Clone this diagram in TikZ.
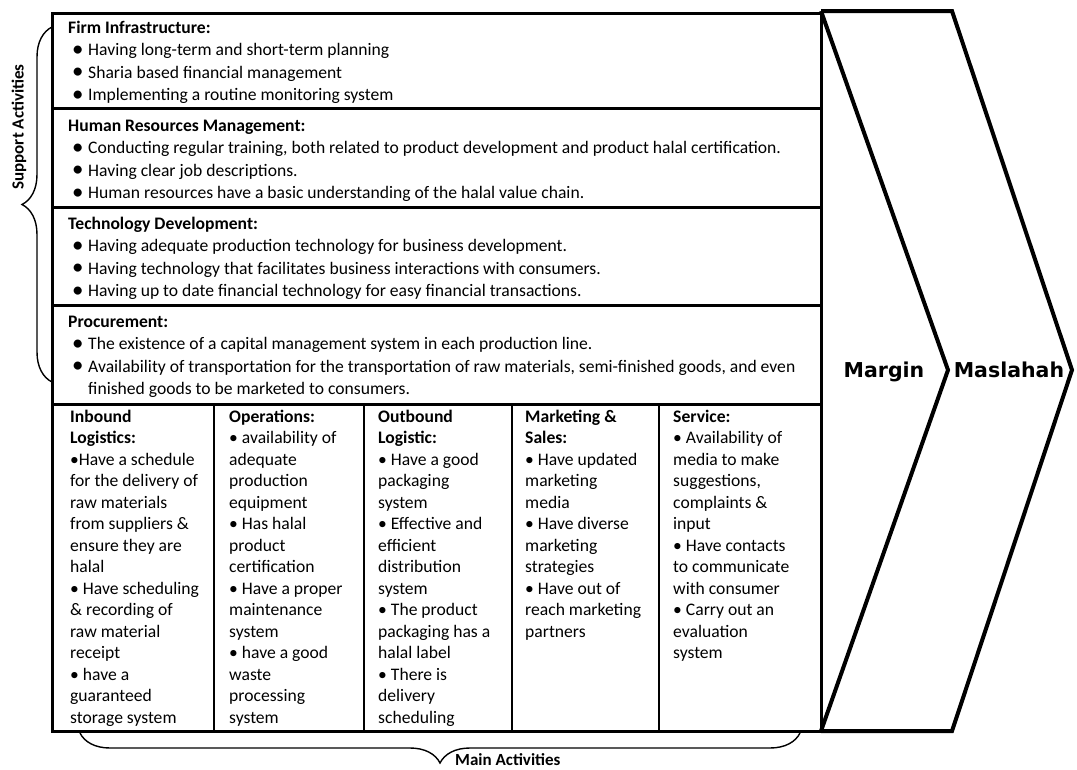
\documentclass[tikz,border=0pt]{standalone}
\usepackage{fontspec}
\setmainfont{Carlito}
\newfontfamily\chevfont{DejaVu Sans}
\usetikzlibrary{decorations.pathreplacing}
\tikzset{
  vchain/.style={x=1pt,y=-1pt},
  frame/.style={line width=3pt},
  divider/.style={line width=2pt},
  chevron/.style={line width=4pt,line join=miter},
  grp/.style={line width=1.4pt,decorate,decoration={brace,amplitude=30pt}},
  rowtext/.style={anchor=north west,inner sep=0pt,align=left,font=\fontsize{17.6}{22.5}\selectfont},
  coltext/.style={anchor=north west,inner sep=0pt,align=left,font=\fontsize{17.6}{21.5}\selectfont},
  bigword/.style={anchor=base,inner sep=0pt,font=\chevfont\bfseries\fontsize{20.5}{25}\selectfont},
  grplabel/.style={font=\bfseries\fontsize{17}{20}\selectfont,inner sep=0pt}
}
\newcommand{\itm}{\makebox[20pt][l]{\hspace{4pt}\raisebox{-0.6pt}{\scalebox{1.3}{•}}}}

\begin{document}
\begin{tikzpicture}[vchain]
  \useasboundingbox (0,0) rectangle (1077,769);
  % frame of the chain
  \draw[frame] (52,13) rectangle (821,731);
  \foreach \y in {108,207,305,404} \draw[frame] (52,\y) -- (821,\y);
  \foreach \x in {214,364,512,659} \draw[divider] (\x,404) -- (\x,731);
  % margin / maslahah
  \draw[chevron] (821,11) -- (952,11) -- (1072,370) -- (952,731) -- (821,731);
  \draw[chevron] (821,11) -- (948,370) -- (821,731);
  \node[bigword] (margin) at (884,377) {Margin};
  \node[bigword] (maslahah) at (1009,377) {Maslahah};
  % support activities (strut: top = baseline - 0.7 bskip)
  \node[rowtext] (firm) at (68,17.3) {\strut\textbf{Firm Infrastructure:}\\
    \itm Having long-term and short-term planning\\
    \itm Sharia based financial management\\
    \itm Implementing a routine monitoring system};
  \node[rowtext] (hrm) at (68,115.3) {\strut\textbf{Human Resources Management:}\\
    \itm Conducting regular training, both related to product development and product halal certification.\\
    \itm Having clear job descriptions.\\
    \itm Human resources have a basic understanding of the halal value chain.};
  \node[rowtext] (tech) at (68,213.3) {\strut\textbf{Technology Development:}\\
    \itm Having adequate production technology for business development.\\
    \itm Having technology that facilitates business interactions with consumers.\\
    \itm Having up to date financial technology for easy financial transactions.};
  \node[rowtext] (proc) at (68,311.3) {\strut\textbf{Procurement:}\\
    \itm The existence of a capital management system in each production line.\\
    \itm Availability of transportation for the transportation of raw materials, semi-finished goods, and even\\
    \hspace*{20pt}finished goods to be marketed to consumers.};
  % main activities
  \node[coltext] (inbound) at (70,407) {\strut\textbf{Inbound}\\\textbf{Logistics:}\\
    •Have a schedule\\for the delivery of\\raw materials\\from suppliers \&\\ensure they are\\halal\\
    • Have scheduling\\\& recording of\\raw material\\receipt\\
    • have a\\guaranteed\\storage system};
  \node[coltext] (ops) at (229,407) {\strut\textbf{Operations:}\\
    • availability of\\adequate\\production\\equipment\\
    • Has halal\\product\\certification\\
    • Have a proper\\maintenance\\system\\
    • have a good\\waste\\processing\\system};
  \node[coltext] (outbound) at (378,407) {\strut\textbf{Outbound}\\\textbf{Logistic:}\\
    • Have a good\\packaging\\system\\
    • Effective and\\efficient\\distribution\\system\\
    • The product\\packaging has a\\halal label\\
    • There is\\delivery\\scheduling};
  \node[coltext] (mkt) at (525,407) {\strut\textbf{Marketing \&}\\\textbf{Sales:}\\
    • Have updated\\marketing\\media\\
    • Have diverse\\marketing\\strategies\\
    • Have out of\\reach marketing\\partners};
  \node[coltext] (service) at (673,407) {\strut\textbf{Service:}\\
    • Availability of\\media to make\\suggestions,\\complaints \&\\input\\
    • Have contacts\\to communicate\\with consumer\\
    • Carry out an\\evaluation\\system};
  % group braces
  \draw[grp] (52,382) -- (52,27);
  \node[grplabel,rotate=90] (support) at (19,127) {Support Activities};
  \draw[grp] (800,733) -- (80,733);
  \node[grplabel,anchor=base west] (main) at (455,765) {Main Activities};
\end{tikzpicture}
\end{document}
